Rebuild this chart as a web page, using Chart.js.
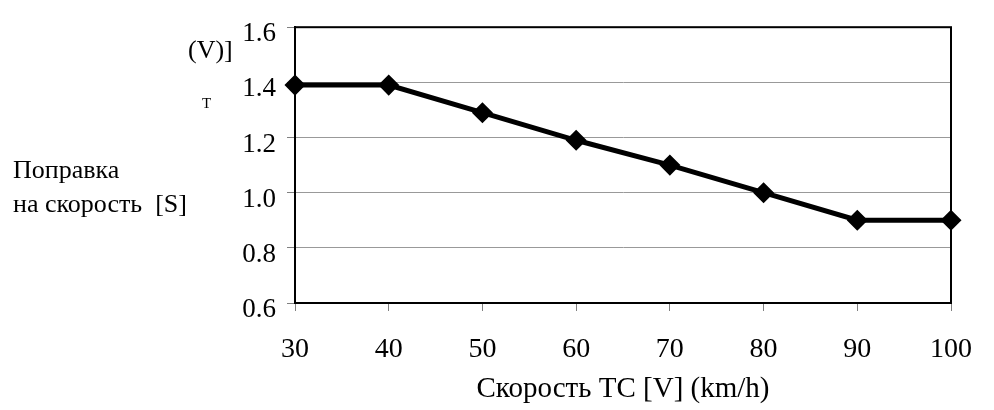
<!DOCTYPE html>
<html>
<head>
<meta charset="utf-8">
<script src="https://cdn.jsdelivr.net/npm/chart.js@4.4.9/dist/chart.umd.min.js"></script>
<style>
  html, body { margin: 0; padding: 0; background: #fff; }
  #wrap { width: 994px; height: 410px; position: relative; }
</style>
</head>
<body>
<div id="wrap"><canvas id="chart"></canvas></div>
<script>
// Данные графика
const speeds = [30, 40, 50, 60, 70, 80, 90, 100];
const correction = [1.39, 1.39, 1.29, 1.19, 1.10, 1.00, 0.90, 0.90];
const yTicks = [0.6, 0.8, 1.0, 1.2, 1.4, 1.6];
const xTitle = 'Скорость ТС [V] (km/h)';
const yLabelLines = ['Поправка', 'на скорость  [S]'];

const serif = '"Liberation Serif", "Times New Roman", serif';

// рамка сверху/справа и подписи слева
const extras = {
    id: 'extras',
    beforeDatasetsDraw(chart) {
        const { ctx, chartArea: a } = chart;
        ctx.save();
        ctx.strokeStyle = '#000';
        ctx.lineWidth = 2;
        ctx.strokeRect(a.left, a.top, a.right - a.left, a.bottom - a.top);
        ctx.restore();
    },
    afterDraw(chart) {
        const ctx = chart.ctx;
        ctx.save();
        ctx.fillStyle = '#000';
        ctx.textBaseline = 'alphabetic';
        ctx.textAlign = 'left';
        ctx.font = '26px ' + serif;
        ctx.fillText(yLabelLines[0], 13, 178);
        ctx.fillText(yLabelLines[1], 13, 212);
        ctx.fillText('(V)]', 188, 58);
        ctx.font = '15px ' + serif;
        ctx.fillText('Т', 202, 108);
        ctx.restore();
    }
};

new Chart(document.getElementById('chart'), {
    type: 'line',
    data: {
        datasets: [{
            data: speeds.map((v, i) => ({ x: v, y: correction[i] })),
            borderColor: '#000',
            backgroundColor: '#000',
            borderWidth: 5,
            pointStyle: 'rectRot',
            pointRadius: 7,
            pointHoverRadius: 7,
            tension: 0,
            fill: false,
            clip: false
        }]
    },
    options: {
        responsive: true,
        maintainAspectRatio: false,
        animation: false,
        events: [],
        layout: { padding: { left: 0, right: 23, top: 20, bottom: 0 } },
        plugins: { legend: { display: false }, tooltip: { enabled: false } },
        scales: {
            x: {
                type: 'linear',
                min: speeds[0],
                max: speeds[speeds.length - 1],
                afterBuildTicks(scale) { scale.ticks = speeds.map(v => ({ value: v })); },
                afterFit(scale) { scale.height = 107; },
                border: { display: true, color: '#000', width: 2 },
                grid: { drawOnChartArea: false, drawTicks: true, tickLength: 8, tickColor: '#808080' },
                ticks: { color: '#000', padding: 22, maxRotation: 0, font: { family: serif, size: 28 } },
                title: {
                    display: true,
                    text: xTitle,
                    color: '#000',
                    padding: { top: 0, bottom: 3 },
                    font: { family: serif, size: 29 }
                }
            },
            y: {
                min: yTicks[0],
                max: yTicks[yTicks.length - 1],
                afterBuildTicks(scale) { scale.ticks = yTicks.map(v => ({ value: v })); },
                afterFit(scale) { scale.width = 295; },
                border: { display: true, color: '#000', width: 2 },
                grid: { color: '#999', lineWidth: 1, drawTicks: true, tickLength: 8, tickColor: '#808080' },
                ticks: {
                    color: '#000',
                    padding: 11,
                    labelOffset: 7,
                    font: { family: serif, size: 27 },
                    callback: v => v.toFixed(1)
                }
            }
        }
    },
    plugins: [extras]
});
</script>
</body>
</html>
